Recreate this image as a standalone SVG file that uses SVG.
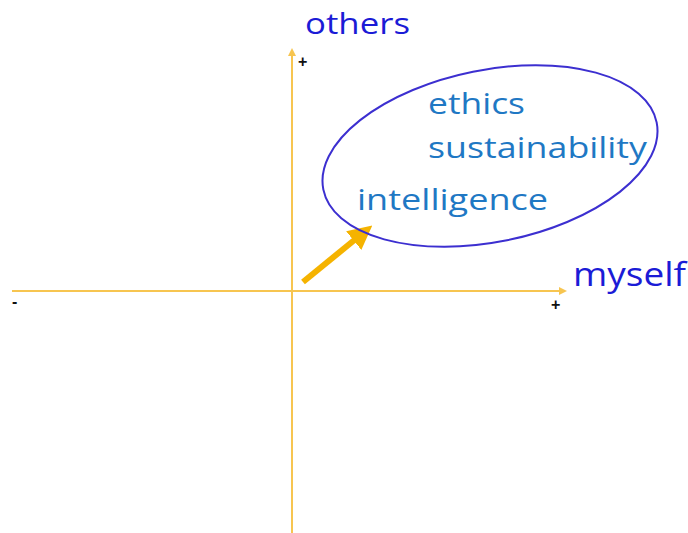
<svg xmlns="http://www.w3.org/2000/svg" width="688" height="533" viewBox="0 0 688 533">
<style>
.axis{stroke:#F7C550;stroke-width:2;fill:none}
.lbl{font-family:"Open Sans","Noto Sans",sans-serif;fill:#1B1BD6}
.itm{font-family:"Open Sans","Noto Sans",sans-serif;fill:#1F78C4;font-size:30px}
.sign{font-family:"Liberation Sans",sans-serif;fill:#111;font-size:16px;font-weight:bold}
</style>
<defs>
<marker id="ah" markerWidth="8" markerHeight="8" refX="6" refY="4" orient="auto" markerUnits="userSpaceOnUse">
<path d="M0,0 L8,4 L0,8 Z" fill="#F7C550"/>
</marker>
<marker id="big" markerWidth="4" markerHeight="4" refX="2" refY="2" orient="auto">
<path d="M0,0 L4,2 L0,4 Z" fill="#F5B300"/>
</marker>
</defs>
<g id="connectors">
<line class="axis" x1="12" y1="291" x2="565" y2="291" marker-end="url(#ah)"/>
<line class="axis" x1="292" y1="533" x2="292" y2="50" marker-end="url(#ah)"/>
<line x1="303" y1="282" x2="363" y2="233" stroke="#F5B300" stroke-width="6" marker-end="url(#big)"/>
</g>
<g id="axis-labels">
<text class="lbl" x="305" y="34" font-size="30" textLength="105" lengthAdjust="spacingAndGlyphs">others</text>
<text class="lbl" x="573" y="286" font-size="32" textLength="113" lengthAdjust="spacingAndGlyphs">myself</text>
<text class="sign" x="298" y="67">+</text>
<text class="sign" x="551" y="310">+</text>
<text class="sign" x="12" y="307">-</text>
</g>
<g id="cluster">
<ellipse cx="490" cy="156" rx="170" ry="86" transform="rotate(-11.4 490 156)" fill="none" stroke="#3C2FD0" stroke-width="2"/>
<text class="itm" x="428" y="114" textLength="97" lengthAdjust="spacingAndGlyphs">ethics</text>
<text class="itm" x="428" y="158" textLength="219" lengthAdjust="spacingAndGlyphs">sustainability</text>
<text class="itm" x="357" y="210" textLength="191" lengthAdjust="spacingAndGlyphs">intelligence</text>
</g>
</svg>
